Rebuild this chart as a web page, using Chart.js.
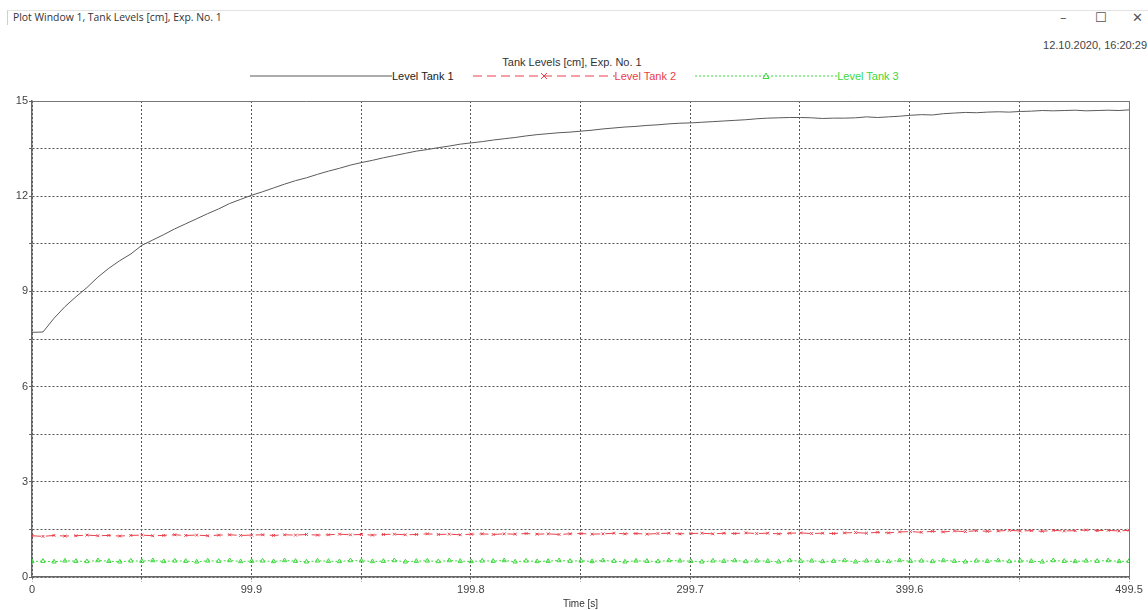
<!DOCTYPE html>
<html>
<head>
<meta charset="utf-8">
<script src="https://cdn.jsdelivr.net/npm/chart.js@4.4.1/dist/chart.umd.min.js"></script>
<style>
  body { margin: 0; background: #fff; width: 1148px; height: 610px; overflow: hidden; position: relative; font-family: "Liberation Sans", Arial, sans-serif; }
  #frame { position: absolute; left: 7px; top: 10px; right: 0; height: 14px; border-top: 1px solid #e3e3e3; border-left: 1px solid #d0d0d0; }
  #winTitle { position: absolute; left: 13px; top: 10px; font: 10.4px "Open Sans", "Noto Sans", sans-serif; color: #333; }
  #winCtl { position: absolute; top: 10px; left: 1055px; font: 13px "DejaVu Sans", sans-serif; color: #555; }
  #winCtl span { position: absolute; }
  #stamp { position: absolute; right: 1px; top: 39px; font-size: 11px; color: #444; }
  #plotTitle { position: absolute; left: 0; width: 1144px; top: 56px; text-align: center; font-size: 11px; color: #333; }
  #doughLegend { position: absolute; left: 250px; top: 70px; display: flex; font-size: 11px; }
  .item { display: flex; align-items: center; margin-right: 19px; }
  canvas { position: absolute; left: 0; top: 0; }
</style>
</head>
<body>
<div id="frame"></div>
<div id="winTitle">Plot Window 1, Tank Levels [cm], Exp. No. 1</div>
<div id="winCtl"><span style="left:5px;top:0">&#8211;</span><span style="left:40px;top:0">&#9744;</span><span style="left:77px;top:0">&#10005;</span></div>
<div id="stamp">12.10.2020, 16:20:29</div>
<div id="plotTitle">Tank Levels [cm], Exp. No. 1</div>
<div id="doughLegend"></div>
<canvas id="levelChart" width="1148" height="610"></canvas>
<script>
// time [s]
let times = [0, 5, 10, 15, 20, 25, 30, 35, 40, 45, 50, 55, 60, 65, 70, 75, 80, 85, 90, 95,
    100, 105, 110, 115, 120, 125, 130, 135, 140, 145, 150, 155, 160, 165, 170, 175, 180, 185, 190, 195,
    200, 205, 210, 215, 220, 225, 230, 235, 240, 245, 250, 255, 260, 265, 270, 275, 280, 285, 290, 295,
    300, 305, 310, 315, 320, 325, 330, 335, 340, 345, 350, 355, 360, 365, 370, 375, 380, 385, 390, 395,
    400, 405, 410, 415, 420, 425, 430, 435, 440, 445, 450, 455, 460, 465, 470, 475, 480, 485, 490, 495, 499.5];

let seriesLabels = ['Level Tank 1', 'Level Tank 2', 'Level Tank 3'];

let levelTank1 = [7.71, 7.72, 8.15, 8.52, 8.83, 9.12, 9.45, 9.73, 9.97, 10.18, 10.45, 10.62, 10.79, 10.97, 11.13, 11.29, 11.45, 11.60, 11.77, 11.90,
    12.03, 12.14, 12.26, 12.38, 12.49, 12.58, 12.69, 12.79, 12.88, 12.98, 13.06, 13.13, 13.21, 13.28, 13.35, 13.42, 13.47, 13.53, 13.58, 13.64,
    13.68, 13.72, 13.77, 13.81, 13.85, 13.90, 13.94, 13.97, 14.00, 14.02, 14.05, 14.08, 14.12, 14.15, 14.18, 14.20, 14.23, 14.25, 14.28, 14.30,
    14.31, 14.33, 14.35, 14.37, 14.39, 14.41, 14.44, 14.46, 14.47, 14.48, 14.48, 14.47, 14.45, 14.46, 14.46, 14.47, 14.50, 14.48, 14.50, 14.52,
    14.55, 14.57, 14.56, 14.60, 14.62, 14.64, 14.63, 14.65, 14.66, 14.65, 14.67, 14.68, 14.70, 14.69, 14.70, 14.71, 14.69, 14.70, 14.71, 14.70, 14.72];

let levelTank2 = [1.30, 1.28, 1.31, 1.29, 1.30, 1.32, 1.30, 1.31, 1.29, 1.31, 1.32, 1.30, 1.31, 1.33, 1.31, 1.32, 1.30, 1.32, 1.33, 1.31,
    1.32, 1.33, 1.31, 1.33, 1.32, 1.34, 1.32, 1.33, 1.35, 1.33, 1.34, 1.32, 1.34, 1.35, 1.33, 1.34, 1.36, 1.34, 1.35, 1.33,
    1.35, 1.36, 1.34, 1.36, 1.35, 1.37, 1.35, 1.36, 1.34, 1.36, 1.37, 1.35, 1.36, 1.38, 1.36, 1.37, 1.35, 1.37, 1.38, 1.36,
    1.37, 1.38, 1.36, 1.38, 1.37, 1.39, 1.37, 1.38, 1.36, 1.38, 1.39, 1.37, 1.38, 1.37, 1.39, 1.40, 1.38, 1.41, 1.39, 1.42,
    1.43, 1.41, 1.44, 1.42, 1.45, 1.43, 1.46, 1.44, 1.45, 1.47, 1.45, 1.46, 1.44, 1.47, 1.45, 1.46, 1.48, 1.46, 1.47, 1.45, 1.47];

let levelTank3 = [0.49, 0.50, 0.48, 0.51, 0.50, 0.49, 0.52, 0.50, 0.48, 0.51, 0.50, 0.52, 0.49, 0.51, 0.50, 0.48, 0.51, 0.50, 0.52, 0.49,
    0.50, 0.51, 0.49, 0.52, 0.50, 0.48, 0.51, 0.50, 0.49, 0.52, 0.51, 0.49, 0.50, 0.52, 0.48, 0.50, 0.51, 0.49, 0.52, 0.50,
    0.49, 0.51, 0.50, 0.52, 0.48, 0.51, 0.49, 0.50, 0.52, 0.50, 0.51, 0.49, 0.52, 0.50, 0.48, 0.51, 0.50, 0.49, 0.52, 0.51,
    0.50, 0.48, 0.51, 0.50, 0.52, 0.49, 0.51, 0.50, 0.48, 0.52, 0.50, 0.51, 0.49, 0.50, 0.52, 0.48, 0.51, 0.50, 0.49, 0.52,
    0.50, 0.51, 0.49, 0.52, 0.50, 0.48, 0.51, 0.50, 0.52, 0.49, 0.51, 0.50, 0.48, 0.52, 0.50, 0.49, 0.51, 0.50, 0.52, 0.49, 0.50];

// grid positions, labels only on every second line
let xGrid = [0, 49.95, 99.9, 149.85, 199.8, 249.75, 299.7, 349.65, 399.6, 449.55, 499.5];
let xTickLabels = ['0', '', '99.9', '', '199.8', '', '299.7', '', '399.6', '', '499.5'];
let yGrid = [0, 1.5, 3, 4.5, 6, 7.5, 9, 10.5, 12, 13.5, 15];
let yTickLabels = ['0', '', '3', '', '6', '', '9', '', '12', '', '15'];

function toPoints(vals) {
    return vals.map((v, i) => ({x: times[i], y: v}));
}

var lastIsSolid = function(ctx) {
    return (ctx.index === 10) ? [] : [2, 2];
};

var ctx = document.getElementById('levelChart').getContext('2d');
var levelChart = new Chart(ctx, {
    type: 'line',
    data: {
        datasets: [{
            label: seriesLabels[0],
            data: toPoints(levelTank1),
            borderColor: '#5a5a5a',
            borderWidth: 1,
            pointRadius: 0,
            pointStyle: false
        }, {
            label: seriesLabels[1],
            data: toPoints(levelTank2),
            borderColor: '#e8404a',
            borderWidth: 1,
            borderDash: [9, 5],
            pointStyle: 'crossRot',
            pointRadius: 2,
            pointBorderWidth: 1,
            pointBorderColor: '#e8404a'
        }, {
            label: seriesLabels[2],
            data: toPoints(levelTank3),
            borderColor: '#3cd83c',
            borderWidth: 1,
            borderDash: [2, 2],
            pointStyle: 'triangle',
            pointRadius: 2.5,
            pointBorderWidth: 1,
            pointBorderColor: '#3cd83c',
            pointBackgroundColor: 'rgba(255,255,255,0)'
        }]
    },
    options: {
        responsive: false,
        animation: false,
        layout: { padding: { top: 101, right: 19, left: 0, bottom: 0 } },
        plugins: {
            legend: { display: false },
            tooltip: { enabled: false }
        },
        scales: {
            x: {
                type: 'linear',
                min: 0,
                max: 499.5,
                afterBuildTicks: function(scale) {
                    scale.ticks = xGrid.map(v => ({value: v}));
                },
                afterFit: function(scale) { scale.height = 33; },
                ticks: {
                    autoSkip: false,
                    maxRotation: 0,
                    padding: 1,
                    color: '#444',
                    font: { family: 'Liberation Sans', size: 11 },
                    callback: function(value, index) { return xTickLabels[index]; }
                },
                grid: { color: function(c) { return c.index === 10 ? '#777' : '#555'; }, lineWidth: 1, tickLength: 5, tickColor: '#666', tickBorderDash: [2, 2] },
                border: { display: true, color: '#666', width: 1.5, dash: lastIsSolid },
                title: { display: true, text: 'Time [s]', color: '#333', font: { family: 'Liberation Sans', size: 10 }, padding: { top: 0, bottom: 0 } }
            },
            y: {
                min: 0,
                max: 15,
                afterBuildTicks: function(scale) {
                    scale.ticks = yGrid.map(v => ({value: v}));
                },
                afterFit: function(scale) { scale.width = 32; },
                ticks: {
                    autoSkip: false,
                    padding: 1,
                    color: '#444',
                    font: { family: 'Liberation Sans', size: 11 },
                    callback: function(value, index) { return yTickLabels[index]; }
                },
                grid: { color: function(c) { return c.index === 10 ? '#777' : '#555'; }, lineWidth: 1, tickLength: 3, tickColor: '#666' },
                border: { display: true, color: '#666', width: 1.5, dash: lastIsSolid }
            }
        }
    }
});

// legend: long line sample with one marker in the middle, label in series colour
function buildLegend(chart) {
    var legend = [];
    chart.data.datasets.forEach(function(ds, i) {
        var dash = ds.borderDash ? ds.borderDash.join(',') : 'none';
        var marker = '';
        if (ds.pointStyle === 'crossRot') {
            marker = '<path d="M68 2 L74 8 M74 2 L68 8" stroke="' + ds.borderColor + '" stroke-width="1"/>';
        } else if (ds.pointStyle === 'triangle') {
            marker = '<path d="M71 2 L74 7.5 L68 7.5 Z" fill="none" stroke="' + ds.borderColor + '" stroke-width="1"/>';
        }
        var txtColor = (i === 0) ? '#222' : ds.borderColor;
        legend.push('<div class="item">');
        legend.push('<svg width="142" height="10"><line x1="0" y1="5" x2="142" y2="5" stroke="' + ds.borderColor + '" stroke-width="1" stroke-dasharray="' + dash + '"/>' + marker + '</svg>');
        legend.push('<span style="color:' + txtColor + '">' + ds.label + '</span>');
        legend.push('</div>');
    });
    document.getElementById('doughLegend').innerHTML = legend.join('');
}
buildLegend(levelChart);
</script>
</body>
</html>
